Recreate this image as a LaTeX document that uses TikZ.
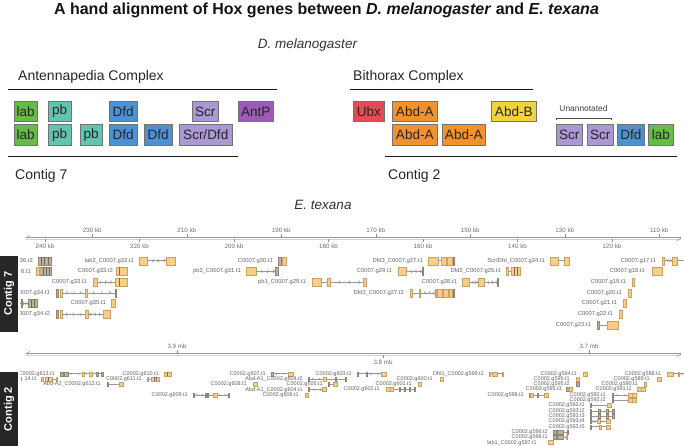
\documentclass[tikz,border=0pt]{standalone}
\usepackage{fontspec}
\setmainfont{Liberation Sans}
\usetikzlibrary{decorations.markings,arrows.meta}
\definecolor{clab}{HTML}{66BC46}
\definecolor{cpb}{HTML}{62C3B0}
\definecolor{cdfd}{HTML}{4C92D3}
\definecolor{cscr}{HTML}{AA98D2}
\definecolor{cantp}{HTML}{9C5CB5}
\definecolor{cubx}{HTML}{E24C52}
\definecolor{cabda}{HTML}{F2922E}
\definecolor{cabdb}{HTML}{F3D33C}
\definecolor{exfill}{HTML}{F8CE86}
\definecolor{exdraw}{HTML}{C9A263}
\definecolor{gxfill}{HTML}{BAB29F}
\definecolor{gxdraw}{HTML}{8E8672}
\newcount\lblcnt
\newcommand\Rs[1]{(260.7+10.7*#1)}
\newcommand\Rw[1]{(373.7+5.3*#1)}
\newcommand\gex[4][exo]{\draw[#1] (#2,{#4-\hh}) rectangle (#3,{#4+\hh});}
\newcommand\gln[4][intr]{\draw[#1] (#2,{#4}) -- (#3,{#4});}
\newcommand\gstr[2]{\draw[gxd] (#1,{#2-\hh}) -- (#1,{#2+\hh});}
\newcommand\glab[4][lblA]{\global\advance\lblcnt by 1 \edef\curname{gl\the\lblcnt}\node[#1] (\curname) at (#2,{#3}) {#4};}
\newcommand\hox[7]{\node[hoxbox, fill=#5, minimum width=#3pt] (#1) at (#2,#4) {#6#7};}
\begin{document}
\begin{tikzpicture}[x=1pt,y=-1pt,
  hoxbox/.style={draw=black!55, line width=.5pt, inner sep=0pt, minimum height=20.5pt, anchor=north west, font=\fontsize{13.5}{13.5}\selectfont, text=black!85},
  rul/.style={draw=black!90, line width=.9pt},
  big/.style={font=\fontsize{14}{14}\selectfont, text=black!85, anchor=west, inner sep=0pt},
  exo/.style={fill=exfill, draw=exdraw, line width=.35pt},
  gx/.style={fill=gxfill, draw=gxdraw, line width=.35pt},
  gxd/.style={draw=gxdraw!80!black, line width=.35pt},
  intr/.style={draw=black!40, line width=.45pt},
  introR/.style={intr, postaction={decorate}, decoration={markings, mark=between positions 0.25 and 0.85 step 0.3 with {\arrow[black!45]{Straight Barb[length=1.4pt,width=3pt]}}}},
  introL/.style={intr, postaction={decorate}, decoration={markings, mark=between positions 0.25 and 0.85 step 0.3 with {\arrowreversed[black!45]{Straight Barb[length=1.4pt,width=3pt]}}}},
  introRs/.style={intr, postaction={decorate}, decoration={markings, mark=between positions 0.3 and 0.8 step 0.5 with {\arrow[black!45]{Straight Barb[length=1pt,width=2pt]}}}},
  introLs/.style={intr, postaction={decorate}, decoration={markings, mark=between positions 0.3 and 0.8 step 0.5 with {\arrowreversed[black!45]{Straight Barb[length=1pt,width=2pt]}}}},
  lblA/.style={font=\fontsize{5.8}{5.8}\selectfont, text=black!62, anchor=east, inner sep=0pt},
  lblB/.style={font=\fontsize{5.5}{5.5}\selectfont, text=black!62, anchor=east, inner sep=0pt},
  tick/.style={font=\fontsize{6.2}{6.2}\selectfont, text=black!58, inner sep=0pt},
  ruler/.style={draw=black!40, line width=1pt},
  rulerlo/.style={draw=black!18, line width=.8pt},
  tk/.style={draw=black!45, line width=.45pt},
  contig/.style={rotate=90, text=white, font=\bfseries\fontsize{11}{11}\selectfont, inner sep=0pt}
]
\useasboundingbox (0,0) rectangle (684,446);
% ---------- title and top section ----------
\node[font=\bfseries\fontsize{16}{16}\selectfont, text=black!92, inner sep=0pt] (title) at (326.5,10) {A hand alignment of Hox genes between \textit{D. melanogaster} and \textit{E. texana}};
\node[font=\itshape\fontsize{13.5}{13.5}\selectfont, text=black!80, inner sep=0pt] (dmel) at (307.5,45) {D. melanogaster};
\node[big] (antc) at (18,77) {Antennapedia Complex};
\node[big] (bitc) at (353,77) {Bithorax Complex};
\node[big] (c7t) at (15,176) {Contig 7};
\node[big] (c2t) at (388,176) {Contig 2};
\draw[rul] (8,89) -- (277,89);
\draw[rul] (8,156) -- (238,156);
\draw[rul] (350,89) -- (533,89);
\draw[rul] (385,156) -- (677,156);
% Antennapedia row 1
\hox{a1}{14}{23}{101}{clab}{lab}{}
\hox{a2}{48}{23}{101}{cpb}{pb}{}
\hox{a3}{109}{28}{101}{cdfd}{Dfd}{}
\hox{a4}{192}{26}{101}{cscr}{Scr}{}
\hox{a5}{238}{35}{101}{cantp}{AntP}{}
% Antennapedia row 2
\hox{b1}{14}{23}{124.5}{clab}{lab}{}
\hox{b2}{48}{23}{124.5}{cpb}{pb}{}
\hox{b3}{80}{22}{124.5}{cpb}{pb}{}
\hox{b4}{109}{28}{124.5}{cdfd}{Dfd}{}
\hox{b5}{144}{28}{124.5}{cdfd}{Dfd}{}
\hox{b6}{179}{53}{124.5}{cscr}{Scr/Dfd}{}
% Bithorax row 1
\hox{c1}{353}{31}{101}{cubx}{Ubx}{}
\hox{c2}{392}{45}{101}{cabda}{Abd-A}{}
\hox{c3}{491}{45}{101}{cabdb}{Abd-B}{}
% Bithorax row 2
\hox{d1}{392}{45}{124.5}{cabda}{Abd-A}{}
\hox{d2}{442}{43}{124.5}{cabda}{Abd-A}{}
\hox{d3}{556}{26}{124.5}{cscr}{Scr}{}
\hox{d4}{587}{26}{124.5}{cscr}{Scr}{}
\hox{d5}{617}{27}{124.5}{cdfd}{Dfd}{}
\hox{d6}{648}{25}{124.5}{clab}{lab}{}
\node[font=\fontsize{8.4}{8.4}\selectfont, text=black!75, inner sep=0pt] (unann) at (583.5,108) {Unannotated};
\draw[black!70, line width=.6pt] (556,120.5) -- (556,118) -- (611,118) -- (611,120.5);
\node[font=\itshape\fontsize{13.5}{13.5}\selectfont, text=black!80, inner sep=0pt] (etex) at (323,205) {E. texana};
% ---------- contig 7 ruler ----------
\draw[ruler] (26,237.6) -- (681,237.6);
\draw[rulerlo] (26,238.9) -- (681,238.9);
\draw[tk] (26,238) -- (30,235.3);
\draw[tk] (681,238) -- (677,240.6);
\foreach \kb/\nm in {240/r240,220/r220,200/r200,180/r180,160/r160,140/r140,120/r120}{
  \draw[tk] ({45+(240-\kb)*4.725},239.3) -- ({45+(240-\kb)*4.725},242);
  \node[tick] (\nm) at ({45+(240-\kb)*4.725},246.5) {\kb\ kb};
}
\foreach \kb/\nm in {230/r230,210/r210,190/r190,170/r170,150/r150,130/r130,110/r110}{
  \draw[tk] ({45+(240-\kb)*4.725},234) -- ({45+(240-\kb)*4.725},236.8);
  \node[tick] (\nm) at ({45+(240-\kb)*4.725},230.5) {\kb\ kb};
}
% ---------- contig 7 bar ----------
\fill[black!85] (0,256) rectangle (18,332);
\node[contig] (c7bar) at (9,293.5) {Contig 7};
% ---------- contig 7 features ----------
\begin{scope}
\clip (20,250) rectangle (684,336);
\def\hh{4}
% row 0
\glab{33}{\Rs{0}}{36.t2}
\gex[gx]{38}{51}{\Rs{0}} \gstr{41}{\Rs{0}} \gstr{44.5}{\Rs{0}} \gstr{48}{\Rs{0}}
\glab{134}{\Rs{0}}{lab2\_C0007.g32.t1}
\gex{139}{147}{\Rs{0}} \gln[introL]{147}{166}{\Rs{0}} \gex{166}{175}{\Rs{0}}
\glab{273}{\Rs{0}}{C0007.g30.t1}
\gex[gx]{278}{281}{\Rs{0}} \gex{282.5}{286}{\Rs{0}}
\glab{423}{\Rs{0}}{Dfd3\_C0007.g27.t1}
\gex{428}{438}{\Rs{0}} \gln{438}{441}{\Rs{0}} \gex{441}{446}{\Rs{0}} \gex{447}{452}{\Rs{0}} \gex[gx]{453}{454.5}{\Rs{0}}
\glab{545}{\Rs{0}}{Scr/Dfd\_C0007.g24.t1}
\gex{550}{558}{\Rs{0}} \gln{558}{564}{\Rs{0}} \gex{564}{569}{\Rs{0}}
\glab{656}{\Rs{0}}{C0007.g17.t1}
\gex{662}{664.5}{\Rs{0}} \gln[introL]{664.5}{672}{\Rs{0}} \gex{672}{677}{\Rs{0}} \gln{677}{684}{\Rs{0}}
% row 1
\glab{31}{\Rs{1}}{6.t1}
\gex[gx]{36}{51}{\Rs{1}} \gex{36}{39.5}{\Rs{1}} \gstr{43}{\Rs{1}} \gstr{46.5}{\Rs{1}} \gstr{49}{\Rs{1}}
\glab{113}{\Rs{1}}{C0007.g33.t2}
\gex{116}{127}{\Rs{1}} \gstr{119.5}{\Rs{1}}
\glab{241}{\Rs{1}}{pb2\_C0007.g31.t1}
\gex{246}{256}{\Rs{1}} \gln[introL]{256}{275}{\Rs{1}} \gex[gx]{275}{278}{\Rs{1}}
\glab{392}{\Rs{1}}{C0007.g29.t1}
\gex{398}{406}{\Rs{1}} \gln[introL]{406}{422}{\Rs{1}} \gex[gx]{422}{423.5}{\Rs{1}}
\glab{501}{\Rs{1}}{Dfd2\_C0007.g25.t1}
\gex{506}{508}{\Rs{1}} \gln{508}{511}{\Rs{1}} \gex{511}{520}{\Rs{1}} \gstr{514}{\Rs{1}} \gstr{517}{\Rs{1}}
\glab{645}{\Rs{1}}{C0007.g18.t1}
\gex{652}{662}{\Rs{1}}
% row 2
\glab{87}{\Rs{2}}{C0007.g33.t1}
\gex{93}{97}{\Rs{2}} \gln[introR]{97}{115}{\Rs{2}} \gex{115}{127}{\Rs{2}} \gstr{119.5}{\Rs{2}}
\glab{306}{\Rs{2}}{pb1\_C0007.g29.t1}
\gex{312}{321}{\Rs{2}} \gln{321}{327}{\Rs{2}} \gex{327}{330}{\Rs{2}} \gln[introL]{330}{363}{\Rs{2}} \gex{363}{366}{\Rs{2}}
\glab{457}{\Rs{2}}{C0007.g28.t1}
\gex{462}{469}{\Rs{2}} \gln[introL]{469}{478}{\Rs{2}} \gex{478}{484}{\Rs{2}} \gln[introL]{484}{497}{\Rs{2}} \gex[gx]{497}{498.5}{\Rs{2}}
\glab{626}{\Rs{2}}{C0007.g19.t1}
\gex{632}{634}{\Rs{2}}
% row 3
\glab{50}{\Rs{3}}{0007.g34.t1}
\gex[gx]{56}{58}{\Rs{3}} \gex{60}{62}{\Rs{3}} \gln[introR]{62}{85}{\Rs{3}} \gex{85}{87.5}{\Rs{3}} \gln[introR]{87.5}{115}{\Rs{3}} \gex[gx]{115}{116.5}{\Rs{3}}
\glab{404}{\Rs{3}}{Dfd3\_C0007.g27.t2}
\gex{410}{412}{\Rs{3}} \gln{412}{419}{\Rs{3}} \gex{419}{420.5}{\Rs{3}} \gln[introL]{420.5}{435}{\Rs{3}} \gex{435}{436.5}{\Rs{3}} \gex{437}{442}{\Rs{3}} \gex{443}{448}{\Rs{3}} \gex{449}{452}{\Rs{3}} \gex[gx]{453}{454.5}{\Rs{3}}
\glab{622}{\Rs{3}}{C0007.g20.t1}
\gex{628}{631}{\Rs{3}}
% row 4
\gln[introL]{20}{28}{\Rs{4}} \gex[gx]{21}{22}{\Rs{4}}
\gex[gx]{28}{37}{\Rs{4}} \gstr{31}{\Rs{4}} \gstr{34}{\Rs{4}}
\glab{106}{\Rs{4}}{C0007.g35.t1}
\gex{111}{115}{\Rs{4}}
\glab{617}{\Rs{4}}{C0007.g21.t1}
\gex{623}{626}{\Rs{4}}
% row 5
\glab{50}{\Rs{5}}{0007.g34.t2}
\gex[gx]{56}{58}{\Rs{5}} \gex{60}{62}{\Rs{5}} \gln[introR]{62}{85}{\Rs{5}} \gex{85}{88}{\Rs{5}} \gln[introR]{88}{103}{\Rs{5}} \gex{103}{110}{\Rs{5}}
\glab{613}{\Rs{5}}{C0007.g22.t1}
\gex{619}{622}{\Rs{5}}
% row 6
\glab{591}{\Rs{6}}{C0007.g23.t1}
\gex[gx]{597}{599}{\Rs{6}} \gln{599}{607}{\Rs{6}} \gex{607}{618}{\Rs{6}}
\end{scope}
% ---------- contig 2 ruler ----------
\draw[ruler] (26,353.6) -- (681,353.6);
\draw[rulerlo] (26,354.9) -- (681,354.9);
\draw[tk] (26,354) -- (30,351.3);
\draw[tk] (681,354) -- (677,356.6);
\draw[tk] (177,350) -- (177,352.8);
\node[tick] (m39) at (177,346.5) {3.9 mb};
\draw[tk] (383,355.3) -- (383,358);
\node[tick] (m38) at (383,362.5) {3.8 mb};
\draw[tk] (589,350) -- (589,352.8);
\node[tick] (m37) at (589,346) {3.7 mb};
% ---------- contig 2 bar ----------
\fill[black!85] (0,372) rectangle (18,446);
\node[contig] (c2bar) at (9,409) {Contig 2};
% ---------- contig 2 features ----------
\begin{scope}
\clip (20,366) rectangle (684,446);
\def\hh{2}
% row 0
\glab[lblB]{55}{\Rw{0}}{C0002.g613.t1}
\gex[gx]{60}{63}{\Rw{0}} \gex[gx]{64}{68}{\Rw{0}} \gln[introRs]{68}{82}{\Rw{0}} \gex{82}{84}{\Rw{0}} \gln{84}{89}{\Rw{0}} \gex{89}{92}{\Rw{0}} \gln{92}{96}{\Rw{0}} \gex[gx]{96}{98}{\Rw{0}} \gln{98}{101}{\Rw{0}} \gex[gx]{101}{103}{\Rw{0}}
\glab[lblB]{159}{\Rw{0}}{C0002.g610.t1}
\gex{164}{171}{\Rw{0}} \gstr{167.5}{\Rw{0}}
\glab[lblB]{266}{\Rw{0}}{C0002.g607.t1}
\gex[gx]{271}{273}{\Rw{0}} \gln[introRs]{273}{288}{\Rw{0}} \gex{288}{293}{\Rw{0}}
\glab[lblB]{352}{\Rw{0}}{C0002.g603.t1}
\gex[gx]{357}{358.5}{\Rw{0}} \gln{358.5}{366}{\Rw{0}} \gex[gx]{366}{367.5}{\Rw{0}} \gln[introRs]{367.5}{381}{\Rw{0}} \gex{381}{386}{\Rw{0}}
\glab[lblB]{484}{\Rw{0}}{Dfd1\_C0002.g599.t1}
\gex{489}{490.5}{\Rw{0}} \gln{490.5}{492}{\Rw{0}} \gex{492}{497}{\Rw{0}} \gln{497}{502}{\Rw{0}} \gex{502}{503.5}{\Rw{0}}
\glab[lblB]{577}{\Rw{0}}{C0002.g594.t1}
\gex{583}{587}{\Rw{0}}
\glab[lblB]{661}{\Rw{0}}{C0002.g588.t1}
\gex{667}{673}{\Rw{0}} \gln{673}{678}{\Rw{0}} \gex{678}{679.5}{\Rw{0}} \gln[introLs]{679.5}{684}{\Rw{0}}
% row 1
\draw[intr] (21.5,{\Rw{1}-2}) -- (21.5,{\Rw{1}+2});
\glab[lblB]{37}{\Rw{1}}{14.t1}
\gex{41}{43}{\Rw{1}} \gex{45}{52}{\Rw{1}} \gstr{48.5}{\Rw{1}} \gln{52}{56}{\Rw{1}} \gex{56}{57.5}{\Rw{1}}
\glab[lblB]{142}{\Rw{1}}{C0002.g611.t1}
\gex{147}{148.5}{\Rw{1}} \gln{148.5}{151}{\Rw{1}} \gex{151}{159}{\Rw{1}} \gstr{154}{\Rw{1}} \gstr{156.5}{\Rw{1}}
\glab[lblB]{303}{\Rw{1}}{Abd-A1\_C0002.g604.t2}
\gex[gx]{308}{309.5}{\Rw{1}} \gln[introRs]{309.5}{323}{\Rw{1}} \gex{323}{326}{\Rw{1}} \gln{326}{335}{\Rw{1}} \gex[gx]{335}{336.5}{\Rw{1}} \gln{336.5}{345}{\Rw{1}} \gex[gx]{345}{346.5}{\Rw{1}}
\glab[lblB]{433}{\Rw{1}}{C0002.g600.t1}
\gex{440}{443}{\Rw{1}}
\glab[lblB]{570}{\Rw{1}}{C0002.g595.t1}
\gex{576}{579}{\Rw{1}}
\glab[lblB]{650}{\Rw{1}}{C0002.g589.t1}
\gex{657}{661}{\Rw{1}}
% row 2
\glab[lblB]{101}{\Rw{2}}{Abd-A2\_C0002.g612.t1}
\gex[gx]{107}{108.5}{\Rw{2}} \gln{108.5}{119}{\Rw{2}} \gex{119}{123}{\Rw{2}}
\glab[lblB]{247}{\Rw{2}}{C0002.g608.t1}
\gex{253}{257}{\Rw{2}}
\glab[lblB]{323}{\Rw{2}}{C0002.g605.t1}
\gex[gx]{328}{329.5}{\Rw{2}} \gln{329.5}{333}{\Rw{2}} \gex{333}{337}{\Rw{2}}
\glab[lblB]{412}{\Rw{2}}{C0002.g601.t1}
\gex{418}{421}{\Rw{2}}
\glab[lblB]{570}{\Rw{2}}{C0002.g595.t2}
\gex[gx]{576}{579}{\Rw{2}}
\glab[lblB]{638}{\Rw{2}}{C0002.g590.t1}
\gex{644}{646}{\Rw{2}}
% row 3
\glab[lblB]{303}{\Rw{3}}{Abd-A1\_C0002.g604.t1}
\gex[gx]{308}{309.5}{\Rw{3}} \gln[introLs]{309.5}{322}{\Rw{3}} \gex{322}{326}{\Rw{3}}
\glab[lblB]{380}{\Rw{3}}{C0002.g602.t1}
\gln{393}{415}{\Rw{3}} \gex{386}{390}{\Rw{3}} \gex{390}{393}{\Rw{3}} \gex[gx]{399}{400.5}{\Rw{3}} \gex[gx]{404}{405.5}{\Rw{3}} \gex[gx]{409}{410.5}{\Rw{3}} \gex[gx]{414}{415.5}{\Rw{3}}
\glab[lblB]{562}{\Rw{3}}{C0002.g595.t3}
\gex[gx]{566}{569}{\Rw{3}} \gex{569}{572}{\Rw{3}}
\glab[lblB]{632}{\Rw{3}}{C0002.g591.t1}
\gex{637}{641}{\Rw{3}} \gex{641}{645}{\Rw{3}}
% row 4
\glab[lblB]{188}{\Rw{4}}{C0002.g609.t1}
\gex[gx]{193}{194.5}{\Rw{4}} \gln[introRs]{194.5}{205}{\Rw{4}} \gex[gx]{205}{206.5}{\Rw{4}} \gex[gx]{207}{208.5}{\Rw{4}} \gln{208.5}{213}{\Rw{4}} \gex{213}{217}{\Rw{4}} \gln[introRs]{217}{228}{\Rw{4}} \gex[gx]{228}{229.5}{\Rw{4}}
\glab[lblB]{299}{\Rw{4}}{C0002.g606.t1}
\gex{305}{308}{\Rw{4}}
\glab[lblB]{524}{\Rw{4}}{C0002.g598.t1}
\gex[gx]{529}{530.5}{\Rw{4}} \gex{530.5}{533}{\Rw{4}} \gln{533}{544}{\Rw{4}} \gex[gx]{537}{538.5}{\Rw{4}} \gex{544}{548}{\Rw{4}}
\glab[lblB]{606}{\Rw{4}}{C0002.g592.t1}
\gex[gx]{612}{613.5}{\Rw{4}} \gln[introRs]{613.5}{628}{\Rw{4}} \gex{628}{632}{\Rw{4}} \gex{632}{636}{\Rw{4}}
% row 5
\glab[lblB]{606}{\Rw{5}}{C0002.g592.t2}
\gex[gx]{612}{613.5}{\Rw{5}} \gln{613.5}{628}{\Rw{5}} \gex{628}{632}{\Rw{5}} \gex{632}{636}{\Rw{5}}
% rows 6-10
\glab[lblB]{585}{\Rw{6}}{C0002.g593.t1}
\gex[gx]{590}{591.5}{\Rw{6}} \gln{591.5}{607}{\Rw{6}} \gex{607}{611}{\Rw{6}}
\glab[lblB]{585}{\Rw{7}}{C0002.g593.t2}
\gln{591.5}{613}{\Rw{7}} \gex[gx]{590}{591.5}{\Rw{7}} \gex[gx]{598.5}{600}{\Rw{7}} \gex[gx]{606.5}{608}{\Rw{7}} \gex[gx]{612.5}{614}{\Rw{7}}
\glab[lblB]{585}{\Rw{8}}{C0002.g593.t3}
\gln{591.5}{613}{\Rw{8}} \gex[gx]{590}{591.5}{\Rw{8}} \gex[gx]{598.5}{600}{\Rw{8}} \gex[gx]{606.5}{608}{\Rw{8}} \gex[gx]{612.5}{614}{\Rw{8}}
\glab[lblB]{585}{\Rw{9}}{C0002.g593.t4}
\gex[gx]{590}{591.5}{\Rw{9}} \gln[introRs]{591.5}{597}{\Rw{9}} \gex{597}{600}{\Rw{9}} \gln{600}{606}{\Rw{9}} \gex{606}{610}{\Rw{9}}
\glab[lblB]{585}{\Rw{10}}{C0002.g593.t5}
\gex[gx]{590}{591.5}{\Rw{10}} \gln{591.5}{599}{\Rw{10}} \gex{599}{601}{\Rw{10}} \gln{601}{606}{\Rw{10}} \gex{606}{610}{\Rw{10}}
% rows 11-13
\glab[lblB]{548}{\Rw{11}}{C0002.g596.t2}
\gex[gx]{553}{556}{\Rw{11}} \gex[gx]{557}{563}{\Rw{11}} \gln{563}{567}{\Rw{11}} \gex[gx]{567}{568.5}{\Rw{11}}
\glab[lblB]{548}{\Rw{12}}{C0002.g596.t1}
\gex[gx]{553}{556}{\Rw{12}} \gex[gx]{557}{563}{\Rw{12}} \gln{563}{566}{\Rw{12}} \gex{566}{567.5}{\Rw{12}}
\glab[lblB]{537}{\Rw{13}}{lab1\_C0002.g597.t1}
\gex{548}{553}{\Rw{13}}
\end{scope}
\end{tikzpicture}
\end{document}
